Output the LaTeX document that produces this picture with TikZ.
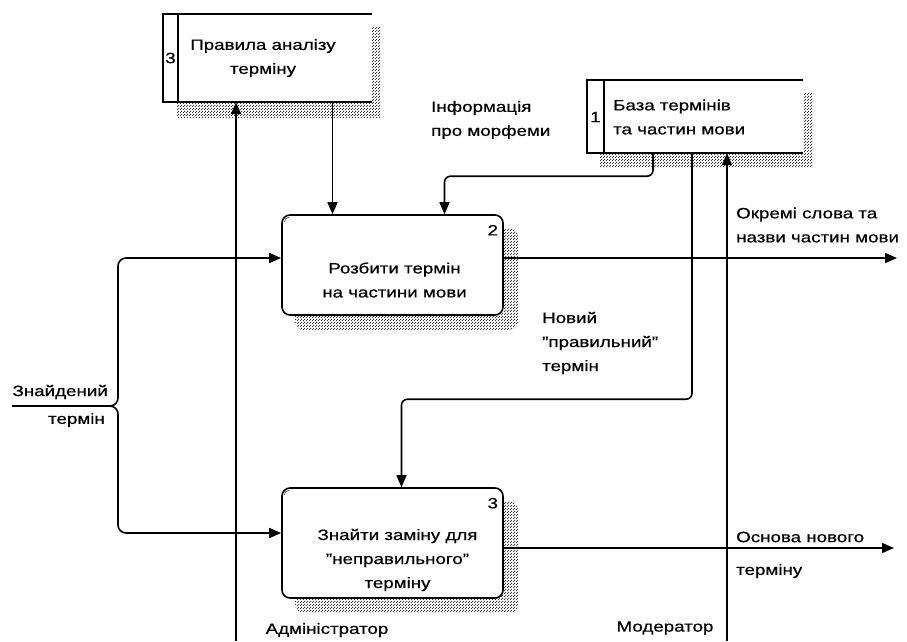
\documentclass[tikz,border=0pt]{standalone}
\usepackage{fontspec}
\setmainfont[FakeStretch=1.25,FakeBold=0.5]{Liberation Sans}
\usetikzlibrary{arrows.meta,patterns.meta,backgrounds}

\tikzdeclarepattern{
  name=shadowdots,
  bottom left={(0pt,0pt)},
  top right={(3pt,3pt)},
  tile size={(3pt,3pt)},
  code={
    \fill (0pt,0pt) rectangle (1.3pt,1.3pt);
    \fill (1.5pt,1.5pt) rectangle (2.8pt,2.8pt);
  }
}

\tikzset{
  every node/.style={font=\fontsize{15}{24}\selectfont, inner sep=0pt},
  line/.style={line width=1.6pt},
  flow/.style={line width=1.6pt, -{Triangle[length=12pt,width=10pt]}},
  proc/.style={draw, line width=1.6pt, fill=white, rounded corners=8pt},
  store/.style={fill=white},
  hatch/.style={pattern=shadowdots, pattern color=black!80},
}

\begin{document}
\begin{tikzpicture}[x=1pt,y=-1pt]
\useasboundingbox (0,0) rectangle (907,641);
\node[store, minimum width=209pt, minimum height=88pt] (st3) at (267.5,58){};
\node[store, minimum width=216pt, minimum height=73pt] (st1) at (695,116.5){};
\node[proc, minimum width=221pt, minimum height=100pt] (proc2) at (392.5,265){};
\node[proc, minimum width=221pt, minimum height=110pt] (proc3) at (392.5,543){};
\begin{scope}[on background layer]
\fill[hatch] ([shift={(14,13)}]st3.north west) rectangle ([shift={(8,15)}]st3.south east);
\fill[hatch] ([shift={(13,13)}]st1.north west) rectangle ([shift={(10,14)}]st1.south east);
\fill[hatch, rounded corners=8pt] ([shift={(14,14)}]proc2.north west) rectangle ([shift={(14,14)}]proc2.south east);
\fill[hatch, rounded corners=8pt] ([shift={(14,14)}]proc3.north west) rectangle ([shift={(14,14)}]proc3.south east);
\end{scope}
\draw[line] (st3.north east) -- (st3.north west) -- (st3.south west) -- (st3.south east);
\draw[line] ([xshift=15pt]st3.north west) -- ([xshift=15pt]st3.south west);
\draw[line] (st1.north east) -- (st1.north west) -- (st1.south west) -- (st1.south east);
\draw[line] ([xshift=17pt]st1.north west) -- ([xshift=17pt]st1.south west);
\draw ([shift={(3,8)}]proc2.north west) arc[start angle=180, end angle=90, radius=5pt];
\draw ([shift={(3,8)}]proc3.north west) arc[start angle=180, end angle=90, radius=5pt];

\node (st3num) at (170.5,58) {3};
\node[align=center] (st3txt) at (263,58) {Правила аналізу\\терміну};
\node (st1num) at (595.5,117) {1};
\node[anchor=west, align=left] (st1txt) at (613,117) {База термінів\\та частин мови};
\node (proc2num) at ([shift={(-11,16)}]proc2.north east) {2};
\node[align=center] (proc2txt) at ([shift={(2,15)}]proc2.center) {Розбити термін\\на частини мови};
\node (proc3num) at ([shift={(-11,16)}]proc3.north east) {3};
\node[align=center] (proc3txt) at ([shift={(5,17)}]proc3.center) {Знайти заміну для\\"неправильного"\\терміну};

\node[anchor=west, align=left] (morph) at (431,120) {Інформація\\про морфеми};
\node[anchor=west, align=left] (newterm) at (542,343) {Новий\\"правильний"\\термін};
\node[anchor=west, align=left] (words) at (736,225) {Окремі слова та\\назви частин мови};
\node[anchor=west] (basis) at (736,537) {Основа нового};
\node[anchor=west] (basis2) at (736,571) {терміну};
\node[anchor=east] (found) at (108,392) {Знайдений};
\node[anchor=east] (found2) at (105,420) {термін};
\node (admin) at (327,630) {Адміністратор};
\node (moder) at (665,628) {Модератор};

\coordinate (adm) at (236,641);
\coordinate (mod) at (727,641);
\coordinate (in) at (12,406);
\coordinate (split) at (118,406);
\coordinate (out2) at (897,258);
\coordinate (out3) at (894,548);
\coordinate (p2in) at ([xshift=-60pt]proc2.north);
\coordinate (p2db) at ([xshift=52pt]proc2.north);
\coordinate (p3db) at ([xshift=9pt]proc3.north);

\draw[flow] (adm) -- (adm |- st3.south);
\draw[flow] (mod) -- (mod |- st1.south);
\draw[flow] (p2in |- st3.south) -- (p2in);
\draw[flow, rounded corners=6pt] ([xshift=-42pt]st1.south) -- ++(0,23) -| (p2db);
\draw[flow, rounded corners=6pt] ([xshift=-3pt]st1.south) -- ++(0,246) -| (p3db);
\draw[flow, rounded corners=8pt] (in) -- (split) |- ([yshift=7pt]proc2.west);
\draw[flow, rounded corners=8pt] (in) -- (split) |- ([yshift=10pt]proc3.west);
\draw[flow] ([yshift=7pt]proc2.east) -- (out2);
\draw[flow] ([yshift=-5pt]proc3.east) -- (out3);
\end{tikzpicture}
\end{document}
